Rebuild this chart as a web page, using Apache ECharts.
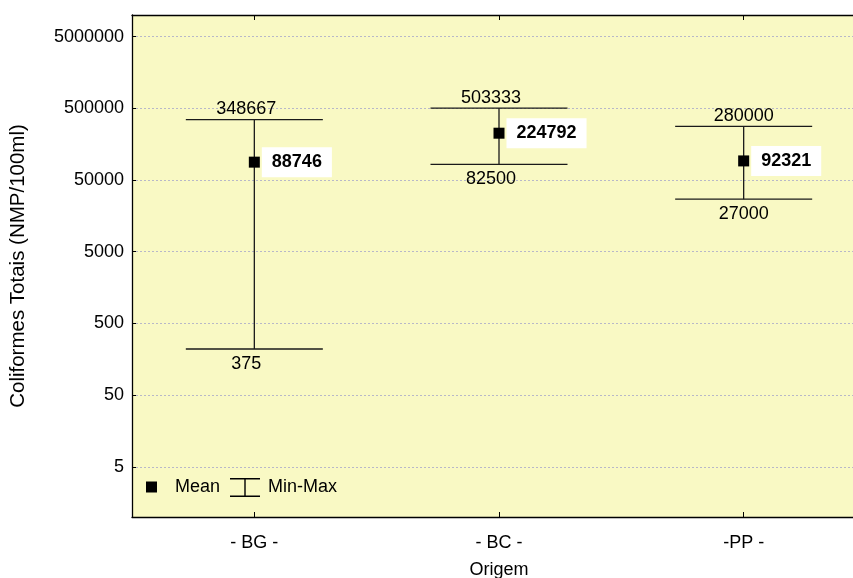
<!DOCTYPE html>
<html>
<head>
<meta charset="utf-8">
<script src="https://cdn.jsdelivr.net/npm/echarts@6/dist/echarts.min.js"></script>
<style>html,body{margin:0;padding:0;background:#fff;}#c{width:853px;height:578px;}</style>
</head>
<body>
<div id="c"></div>
<script>
const categories = ['- BG -', '- BC -', '-PP -'];
const meanValues = [88746, 224792, 92321];
const maxValues = [348667, 503333, 280000];
const minValues = [220, 82500, 27000];
const maxLabels = ['348667', '503333', '280000'];
const minLabels = ['375', '82500', '27000'];
const yTickValues = [5, 50, 500, 5000, 50000, 500000, 5000000];

const FONT = '"Liberation Sans", Arial, sans-serif';
const FS = 18;
const labelShift = [-8, -8, 0];

const chart = echarts.init(document.getElementById('c'), null, {renderer: 'canvas'});

const errData = categories.map((c, i) => [i, minValues[i], maxValues[i]]);

const option = {
  animation: false,
  backgroundColor: '#ffffff',
  grid: {
    left: 132, top: 15, width: 734, height: 502,
    show: true, backgroundColor: '#f9f9c4', borderWidth: 0,
    containLabel: false, outerBoundsMode: 'none'
  },
  legend: [
    {
      data: [{name: 'Mean', icon: 'rect', itemStyle: {color: '#000', opacity: 1}}],
      left: 146, top: 478, padding: 0,
      itemWidth: 11, itemHeight: 11,
      selectedMode: false,
      textStyle: {fontFamily: FONT, fontSize: FS, color: '#000', padding: [0, 0, 0, 13]}
    },
    {
      data: [{name: 'Min-Max', icon: 'path://M0,0H30V1.4H15.7V17.6H30V19H0V17.6H14.3V1.4H0Z', itemStyle: {color: '#000', borderWidth: 0}}],
      left: 230, top: 478, padding: 0,
      itemWidth: 30, itemHeight: 19,
      selectedMode: false,
      textStyle: {fontFamily: FONT, fontSize: FS, color: '#000', padding: [5, 0, 0, 3]}
    }
  ],
  xAxis: [
    {
      type: 'category', data: categories, position: 'bottom',
      name: 'Origem', nameLocation: 'middle', nameGap: 44,
      nameTextStyle: {fontFamily: FONT, fontSize: FS, color: '#000'},
      axisLine: {show: true, lineStyle: {color: '#000', width: 1.3}},
      axisTick: {show: true, inside: true, alignWithLabel: true, length: 5, lineStyle: {color: '#000'}},
      axisLabel: {fontFamily: FONT, fontSize: FS, color: '#000', margin: 17},
      splitLine: {show: false}
    },
    {
      type: 'category', data: categories, position: 'top',
      axisLine: {show: true, lineStyle: {color: '#000', width: 1.3}},
      axisTick: {show: true, inside: true, alignWithLabel: true, length: 5, lineStyle: {color: '#000'}},
      axisLabel: {show: false},
      splitLine: {show: false}
    }
  ],
  yAxis: [
    {
      type: 'log', logBase: 10, min: 1, max: 10000000,
      name: 'Coliformes Totais (NMP/100ml)', nameLocation: 'middle', nameGap: 103,
      nameTextStyle: {fontFamily: FONT, fontSize: 20.5, color: '#000'},
      axisLine: {show: true, lineStyle: {color: '#000', width: 1.3}},
      axisTick: {show: true, inside: true, length: 4, customValues: yTickValues, lineStyle: {color: '#000'}},
      axisLabel: {fontFamily: FONT, fontSize: FS, color: '#000', margin: 8, customValues: yTickValues,
        formatter: v => String(Math.round(v))},
      splitLine: {show: true, lineStyle: {color: '#b8b8c8', type: [2, 2], width: 1}},
      minorTick: {show: false}
    }
  ],
  series: [
    {
      name: 'Min-Max',
      type: 'custom',
      xAxisIndex: 0, yAxisIndex: 0,
      data: errData,
      z: 2,
      renderItem: function (params, api) {
        const i = api.value(0);
        const top = api.coord([i, api.value(2)]);
        const bot = api.coord([i, api.value(1)]);
        const band = api.size([1, 1])[0];
        const hw = band * 0.28;
        const stroke = {stroke: '#1a1a1a', lineWidth: 1.3};
        const sx = labelShift[i] || 0;
        return {
          type: 'group',
          children: [
            {type: 'line', shape: {x1: top[0], y1: top[1], x2: bot[0], y2: bot[1]}, style: stroke},
            {type: 'line', shape: {x1: top[0] - hw, y1: top[1], x2: top[0] + hw, y2: top[1]}, style: stroke},
            {type: 'line', shape: {x1: bot[0] - hw, y1: bot[1], x2: bot[0] + hw, y2: bot[1]}, style: stroke},
            {type: 'text', x: top[0] + sx, y: top[1] - 1,
              style: {text: maxLabels[i], align: 'center', verticalAlign: 'bottom', fontFamily: FONT, fontSize: FS, fill: '#000'}},
            {type: 'text', x: bot[0] + sx, y: bot[1] + 6,
              style: {text: minLabels[i], align: 'center', verticalAlign: 'top', fontFamily: FONT, fontSize: FS, fill: '#000'}}
          ]
        };
      }
    },
    {
      name: 'Mean',
      type: 'scatter',
      xAxisIndex: 0, yAxisIndex: 0,
      data: meanValues.map((v, i) => [i, v]),
      symbol: 'rect', symbolSize: 11,
      itemStyle: {color: '#000', opacity: 1},
      z: 3,
      label: {
        show: true, position: 'right', distance: 2,
        formatter: p => String(p.value[1]),
        fontFamily: FONT, fontSize: FS, fontWeight: 'bold', color: '#000',
        backgroundColor: '#ffffff', padding: [6, 10, 6, 10]
      }
    }
  ]
};
chart.setOption(option);
</script>
</body>
</html>
